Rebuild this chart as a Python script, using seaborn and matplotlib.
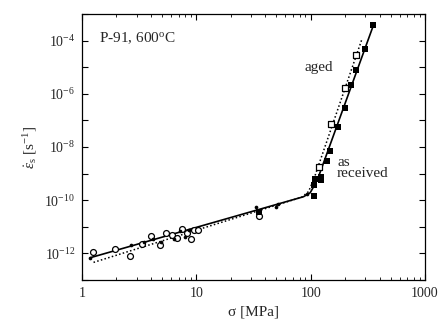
import matplotlib
matplotlib.use("Agg")
import matplotlib.pyplot as plt
import matplotlib.ticker as mticker
import seaborn as sns
import numpy as np

# ---- data ----
# as received: filled squares (high stress)
ar_sq_x = [354, 301, 251, 226, 200, 175, 148, 140, 124, 122, 109, 107, 106, 35.2]
ar_sq_y = [3.8e-4, 4.7e-5, 7.6e-6, 2.1e-6, 2.8e-7, 5.7e-8, 6.9e-9, 2.9e-9,
           5.5e-10, 7.5e-10, 6.0e-10, 1.5e-10, 3.6e-10, 3.7e-11]
# aged: open squares
ag_sq_x = [250, 200, 150, 119]
ag_sq_y = [2.8e-5, 1.7e-6, 7.4e-8, 1.8e-9]
# open circles (low stress)
oc_x = [1.25, 1.95, 2.64, 3.37, 4.04, 4.77, 5.42, 6.08, 6.76, 7.53, 8.28, 8.91, 9.59, 10.3, 35.0]
oc_y = [1.15e-12, 1.5e-12, 8.3e-13, 2.2e-12, 4.5e-12, 2.1e-12, 5.8e-12, 5.1e-12,
        3.8e-12, 8.5e-12, 5.7e-12, 3.5e-12, 7.6e-12, 7.6e-12, 2.5e-11]
# filled dots (low stress)
fd_x = [1.18, 2.68, 3.46, 4.17, 4.93, 6.41, 7.23, 7.89, 8.67, 32.9, 51.6, 49.9, 93.7]
fd_y = [6.9e-13, 2.0e-12, 2.8e-12, 3.5e-12, 2.6e-12, 3.5e-12, 6.7e-12, 4.1e-12,
        7.6e-12, 5.7e-11, 7.3e-11, 5.7e-11, 1.7e-10]
# fitted curves
fit_ar_x = [1.18, 86.5, 98.9, 106, 117, 354]
fit_ar_y = [6.9e-13, 1.35e-10, 1.9e-10, 3.2e-10, 7.6e-10, 3.8e-4]
fit_ag_x = [1.26, 83.6, 95.7, 106, 113, 280]
fit_ag_y = [4.6e-13, 1.3e-10, 2.1e-10, 5.8e-10, 1.3e-9, 1.1e-4]

x_ticks = [1, 10, 100, 1000]
x_tick_labels = ['1', '10', '100', '1000']
y_exponents = list(range(-13, -2))

sns.set_style("ticks")
plt.rcParams['font.family'] = ['Liberation Serif', 'DejaVu Serif']
plt.rcParams['mathtext.fontset'] = 'custom'
plt.rcParams['mathtext.rm'] = 'Liberation Serif'
plt.rcParams['mathtext.it'] = 'Liberation Serif:italic'

fig = plt.figure(figsize=(4.46, 3.31), dpi=100)
ax = fig.add_axes([0.184, 0.154, 0.769, 0.804])

sns.lineplot(x=fit_ar_x, y=fit_ar_y, ax=ax, color='black', lw=1.2, sort=False, estimator=None)
sns.lineplot(x=fit_ag_x, y=fit_ag_y, ax=ax, color='black', lw=1.1, sort=False,
             estimator=None, linestyle=(0, (1, 1.5)))

sns.scatterplot(x=oc_x, y=oc_y, ax=ax, marker='o', s=18, facecolor='white',
                edgecolor='black', linewidth=0.9, zorder=3)
sns.scatterplot(x=fd_x, y=fd_y, ax=ax, marker='o', s=7, color='black',
                edgecolor='black', linewidth=0, zorder=4)
sns.scatterplot(x=ag_sq_x, y=ag_sq_y, ax=ax, marker='s', s=14, facecolor='white',
                edgecolor='black', linewidth=0.9, zorder=3)
sns.scatterplot(x=ar_sq_x, y=ar_sq_y, ax=ax, marker='s', s=16, color='black',
                edgecolor='black', linewidth=0, zorder=4)

ax.set_xscale('log')
ax.set_yscale('log')
ax.set_xlim(1, 1000)
ax.set_ylim(1e-13, 1e-3)

ax.xaxis.set_major_locator(mticker.FixedLocator(x_ticks))
ax.xaxis.set_major_formatter(mticker.FixedFormatter(x_tick_labels))
ax.xaxis.set_minor_locator(mticker.LogLocator(base=10, subs=np.arange(2, 10), numticks=20))
ax.xaxis.set_minor_formatter(mticker.NullFormatter())

yt = [10.0 ** e for e in y_exponents]
ylab = ['10$^{%d}$' % e if e % 2 == 0 else '' for e in y_exponents]
ax.yaxis.set_major_locator(mticker.FixedLocator(yt))
ax.yaxis.set_major_formatter(mticker.FixedFormatter(ylab))
ax.yaxis.set_minor_locator(mticker.NullLocator())

ax.tick_params(which='both', direction='in', top=True, right=True, labelsize=10, color='black')
ax.tick_params(which='major', length=4, width=0.8, pad=5)
ax.tick_params(which='minor', length=2, width=0.6)
for s in ax.spines.values():
    s.set_linewidth(0.9)
    s.set_color('black')

ax.set_xlabel('σ [MPa]', fontsize=11, labelpad=4)
ax.set_ylabel(r'$\dot{\varepsilon}_{\rm s}$ [s$^{-1}$]', fontsize=11, labelpad=4)

ax.text(1.41, 1.26e-4, 'P-91, 600$^{\\rm o}$C', fontsize=11, ha='left', va='center')
ax.text(89, 9.3e-6, 'aged', fontsize=11, ha='left', va='center')
ax.text(170, 1.6e-9, 'as\nreceived', fontsize=11, ha='left', va='center', linespacing=0.8)

fig.savefig('out.png', dpi=100)
